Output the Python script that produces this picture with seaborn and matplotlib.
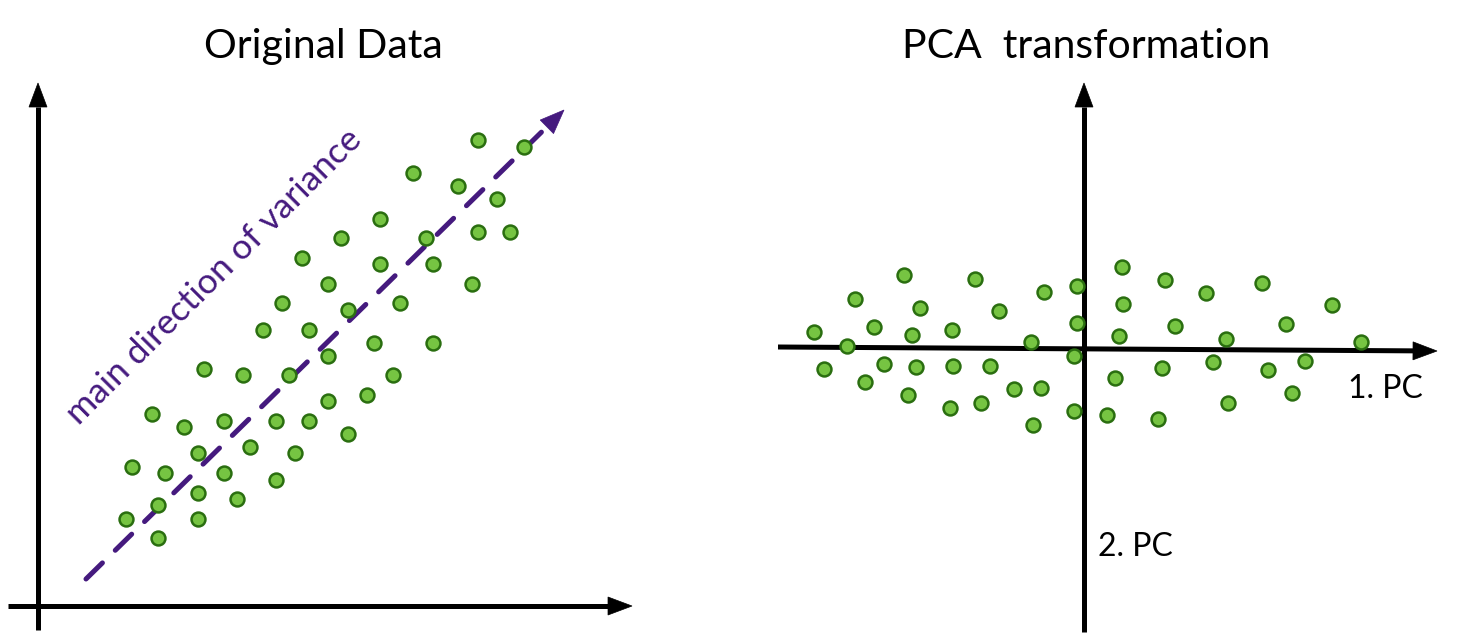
import numpy as np
import matplotlib
matplotlib.use("Agg")
import matplotlib.pyplot as plt
from matplotlib.patches import Polygon
import seaborn as sns

# ---------------- data ----------------
# Original data: x, y relative to the axes origin (pixel-like units)
orig_x = [440, 486, 375, 420, 459, 342, 303, 388, 440, 472, 264, 342, 395, 290, 434, 244,
          310, 362, 225, 271, 336, 395, 290, 166, 205, 251, 355, 329, 290, 114, 146, 186,
          238, 271, 310, 212, 160, 257, 94, 127, 186, 238, 160, 199, 120, 88, 160, 120]
orig_y = [466, 459, 433, 420, 407, 387, 368, 368, 374, 374, 348, 342, 342, 322, 322, 303,
          296, 303, 276, 276, 263, 263, 250, 237, 231, 231, 231, 211, 205, 192, 179, 185,
          185, 185, 172, 159, 153, 153, 139, 133, 133, 126, 113, 107, 101, 87, 87, 68]

# PCA transformed data: 1. PC, 2. PC
pc1 = [38, -180, -109, 81, 178, -7, -40, 122, -229, 248, 39, -164, -85, -7, -210, 202,
       91, -132, -270, -172, 35, 142, 277, -53, -237, -10, 221, -200, 129, -168, -131, -94,
       -260, 78, 184, 31, -219, -70, -43, -176, 208, 144, -103, -134, -10, 23, 74, -51]
pc2 = [82, 74, 70, 69, 66, 63, 57, 56, 50, 44, 45, 41, 38, 26, 22, 25,
       23, 19, 17, 14, 13, 10, 7, 7, 3, -7, -12, -15, -13, -18, -17, -17,
       -20, -19, -21, -29, -33, -40, -39, -46, -44, -54, -54, -59, -62, -66, -70, -76]

title_left = "Original Data"
title_right = "PCA  transformation"
variance_label = "main direction of variance"
pc1_label = "1. PC"
pc2_label = "2. PC"

# ---------------- styling ----------------
sns.set_theme(style="white")
plt.rcParams['font.family'] = ['Lato', 'DejaVu Sans']

FILL = '#76c442'
EDGE = '#2a6e10'
PURPLE = '#451a7e'
AXLW = 3.6

W, H = 1470, 637
fig = plt.figure(figsize=(W / 100, H / 100), dpi=100)
fig.patch.set_facecolor('white')


def arrow(ax, p0, p1, color='black', lw=AXLW, head_len=24, head_w=9, ls='-', z=2):
    p0 = np.asarray(p0, float)
    p1 = np.asarray(p1, float)
    d = p1 - p0
    d /= np.hypot(*d)
    n = np.array([-d[1], d[0]])
    base = p1 - head_len * d
    ax.plot([p0[0], base[0]], [p0[1], base[1]], color=color, lw=lw, ls=ls,
            solid_capstyle='butt', dash_capstyle='round', zorder=z)
    tri = Polygon([base + head_w * n, p1, base - head_w * n], closed=True,
                  facecolor=color, edgecolor=color, lw=0.5, zorder=z)
    ax.add_patch(tri)


# ---------------- left panel ----------------
axL = fig.add_axes([0, 0, 0.5, 1])
axL.set_xlim(-38, 697)
axL.set_ylim(-31, 606)
axL.axis('off')

arrow(axL, (0, -24), (0, 523))
arrow(axL, (-30, 0), (594, 0))

# main direction of variance
arrow(axL, (48, 27), (526, 496), color=PURPLE, lw=3.6, head_len=24, head_w=9.5,
      ls=(0, (4.6, 3.6)), z=3)
axL.text(176, 329, variance_label, color=PURPLE, fontsize=25.5, rotation=45,
         rotation_mode='anchor', ha='center', va='center')

sns.scatterplot(x=orig_x, y=orig_y, ax=axL, color=FILL, edgecolor=EDGE, s=100,
                linewidth=1.8, zorder=5, legend=False)

axL.text(285.5, 548, title_left, fontsize=29.5, ha='center', va='baseline', color='black')

# ---------------- right panel ----------------
axR = fig.add_axes([0.5, 0, 0.5, 1])
axR.set_xlim(-349, 386)
axR.set_ylim(-288, 349)
axR.axis('off')

arrow(axR, (0, -283), (0, 266))
arrow(axR, (-306, 2), (353, -2))

sns.scatterplot(x=pc1, y=pc2, ax=axR, color=FILL, edgecolor=EDGE, s=100,
                linewidth=1.8, zorder=5, legend=False)

axR.text(2.5, 291, title_right, fontsize=29.5, ha='center', va='baseline', color='black')
axR.text(264, -49, pc1_label, fontsize=23, ha='left', va='baseline', color='black')
axR.text(14, -207, pc2_label, fontsize=23, ha='left', va='baseline', color='black')

fig.savefig('out.png', dpi=100, facecolor='white')
